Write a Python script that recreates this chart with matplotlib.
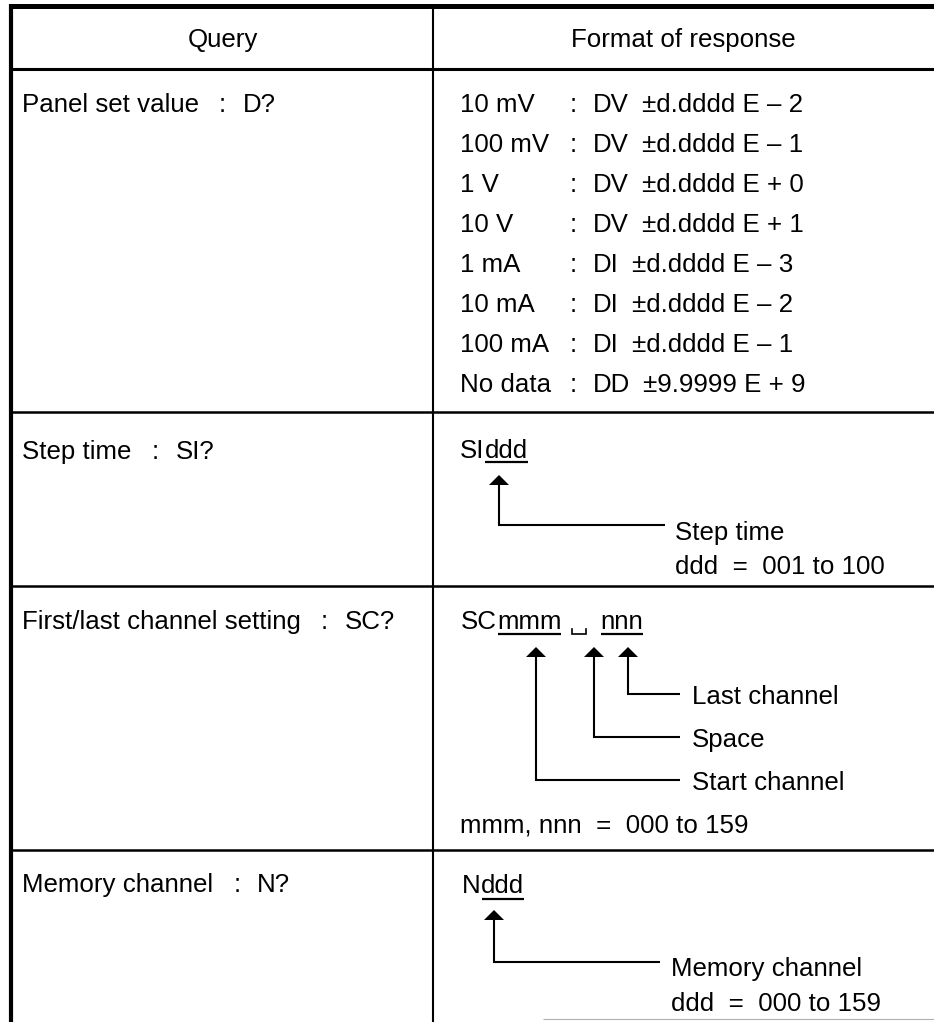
import matplotlib
matplotlib.use("Agg")
import matplotlib.pyplot as plt
from matplotlib.patches import Polygon

# ---- table content ----
headers = ["Query", "Format of response"]
query_labels = ["Panel set value", "Step time", "First/last channel setting", "Memory channel"]
query_codes = ["D?", "SI?", "SC?", "N?"]

ranges = ["10 mV", "100 mV", "1 V", "10 V", "1 mA", "10 mA", "100 mA", "No data"]
resp_codes = ["DV", "DV", "DV", "DV", "DI", "DI", "DI", "DD"]
mantissas = ["d.dddd", "d.dddd", "d.dddd", "d.dddd", "d.dddd", "d.dddd", "d.dddd", "9.9999"]
exp_signs = ["\u2013", "\u2013", "+", "+", "\u2013", "\u2013", "\u2013", "+"]
exp_values = ["2", "1", "0", "1", "3", "2", "1", "9"]

si_format = ["SI", "ddd"]
si_notes = ["Step time", "ddd  =  001 to 100"]
sc_format = ["SC", "mmm", "nnn"]
sc_notes = ["Last channel", "Space", "Start channel"]
sc_range = "mmm, nnn  =  000 to 159"
n_format = ["N", "ddd"]
n_notes = ["Memory channel", "ddd  =  000 to 159"]

FONT = "Liberation Sans"
FS = 18.6
LW_ARROW = 1.5

fig = plt.figure(figsize=(9.34, 10.22), dpi=100)
ax = fig.add_axes([0, 0, 1, 1])
ax.set_xlim(0, 934)
ax.set_ylim(1022, 0)
ax.axis("off")
renderer = fig.canvas.get_renderer()


def put(x, y, s, ha="left"):
    return ax.text(x, y, s, ha=ha, va="baseline", fontsize=FS, family=FONT, color="black")


def xr(t):
    bb = t.get_window_extent(renderer)
    return ax.transData.inverted().transform((bb.x1, bb.y0))[0]


def xl(t):
    bb = t.get_window_extent(renderer)
    return ax.transData.inverted().transform((bb.x0, bb.y0))[0]


def hline(y, x0, x1, lw, color="black"):
    ax.plot([x0, x1], [y, y], color=color, lw=lw, solid_capstyle="butt")


def vline(x, y0, y1, lw):
    ax.plot([x, x], [y0, y1], color="black", lw=lw, solid_capstyle="butt")


def arrow(x, y_tip, y_turn, x_end):
    ax.add_patch(Polygon([[x, y_tip], [x - 10, y_tip + 10], [x + 10, y_tip + 10]],
                         closed=True, color="black", lw=0))
    ax.plot([x, x, x_end], [y_tip + 8, y_turn, y_turn], color="black",
            lw=LW_ARROW, solid_joinstyle="miter", solid_capstyle="butt")


# ---- grid ----
hline(6.5, 9, 934, 3.6)
vline(11, 4, 1022, 3.0)
vline(433, 6, 1022, 1.5)
hline(69.5, 9, 934, 2.2)
for yy in [412, 586, 850]:
    hline(yy, 9, 934, 1.8)
hline(1019, 543, 934, 0.8, color="#b0b0b0")

# ---- header ----
put(222.5, 47, headers[0], ha="center")
put(683.5, 47, headers[1], ha="center")

# ---- query column ----
query_base = [112, 459, 629, 892]
for lab, code, yb in zip(query_labels, query_codes, query_base):
    t = put(22, yb, lab)
    c = put(xr(t) + 20, yb, ":")
    put(xr(c) + 17, yb, code)

# ---- panel set value responses ----
for i, (r, code, man, sg, ex) in enumerate(zip(ranges, resp_codes, mantissas, exp_signs, exp_values)):
    yb = 112 + 40 * i
    put(460, yb, r)
    put(570, yb, ":")
    t = put(593, yb, code)
    put(xr(t) + 13, yb, "\u00b1" + man + " E " + sg + " " + ex)

# ---- step time ----
t1 = put(460, 458, si_format[0])
t2 = put(xr(t1), 458, si_format[1])
hline(462, xl(t2) + 1, xr(t2), 1.6)
arrow(499, 475, 525, 665)
put(675, 540, si_notes[0])
put(675, 574, si_notes[1])

# ---- first/last channel ----
yb = 629
a = put(461, yb, sc_format[0])
b = put(xr(a), yb, sc_format[1])
hline(634, xl(b) + 1, xr(b), 1.6)
sx0 = xr(b) + 11
ax.plot([sx0, sx0, sx0 + 14, sx0 + 14], [629, 634, 634, 629], color="black",
        lw=1.2, solid_joinstyle="miter")
c = put(sx0 + 28, yb, sc_format[2])
hline(634, xl(c) + 1, xr(c), 1.6)
arrow(536, 647, 780, 680)
arrow(594, 647, 737, 680)
arrow(628, 647, 694, 680)
put(692, 704, sc_notes[0])
put(692, 747, sc_notes[1])
put(692, 790, sc_notes[2])
put(460, 832, sc_range)

# ---- memory channel ----
a = put(462, 893, n_format[0])
b = put(xr(a), 893, n_format[1])
hline(899, xl(b) + 1, xr(b), 1.6)
arrow(494, 910, 962, 660)
put(671, 976, n_notes[0])
put(671, 1011, n_notes[1])

fig.savefig("out.png", dpi=100)
